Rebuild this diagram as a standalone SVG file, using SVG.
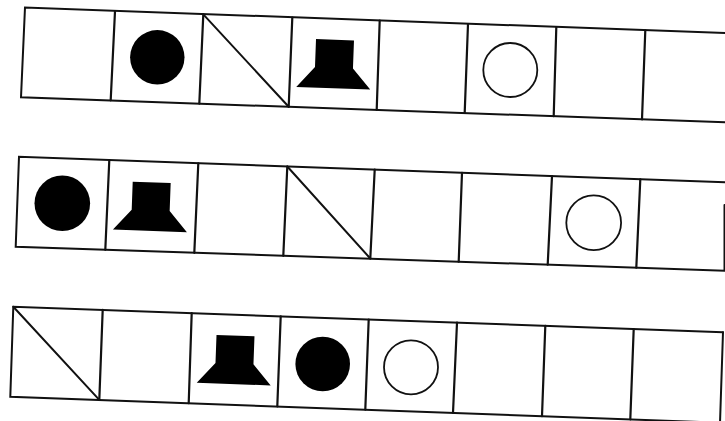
<svg xmlns="http://www.w3.org/2000/svg" width="725" height="421" viewBox="0 0 725 421">
<defs>
<style>
.ln{stroke:#111;stroke-width:2;fill:none;stroke-linecap:round;}
.dv{stroke:#111;stroke-width:2.2;fill:none;stroke-linecap:round;}
.fc{fill:#000;}
.oc{fill:none;stroke:#111;stroke-width:1.8;}
.tr{fill:#000;}
</style>
<polygon id="trap" points="-19,0 19,0 19,28 37,48.5 -37,48.5 -19,28"/>
</defs>
<rect width="725" height="421" fill="#fff"/>
<g id="row1">
<polyline class="ln" points="727,33.1 25,7.5 21,97.3 727,122.4"/>
<line class="dv" x1="115" y1="11.2" x2="110.7" y2="100.3"/>
<line class="dv" x1="203.3" y1="14.4" x2="199.3" y2="103.6"/>
<line class="dv" x1="292.3" y1="17.6" x2="288.7" y2="106.7"/>
<line class="dv" x1="379.7" y1="20.7" x2="376.7" y2="109.9"/>
<line class="dv" x1="468" y1="24" x2="464.7" y2="112.9"/>
<line class="dv" x1="556.3" y1="27.2" x2="553.7" y2="116.2"/>
<line class="dv" x1="645.3" y1="30.3" x2="642" y2="119.4"/>
<circle class="fc" cx="157.3" cy="57.3" r="27.2"/>
<line class="ln" x1="203.3" y1="14.4" x2="288.7" y2="106.7"/>
<use href="#trap" transform="translate(335,39.8) rotate(2.1)"/>
<circle class="oc" cx="510.3" cy="70" r="27"/>
</g>
<g id="row2">
<polyline class="ln" points="727,182.4 19,156.7 15.7,246.7 724.5,270.7 724.5,205"/>
<line class="dv" x1="109.3" y1="160" x2="105.3" y2="249.8"/>
<line class="dv" x1="198.3" y1="163.3" x2="194.3" y2="252.9"/>
<line class="dv" x1="287.3" y1="166.5" x2="283.3" y2="255.8"/>
<line class="dv" x1="374.7" y1="169.7" x2="370.3" y2="258.5"/>
<line class="dv" x1="462" y1="172.8" x2="458.7" y2="261.7"/>
<line class="dv" x1="552" y1="176.1" x2="547.7" y2="264.7"/>
<line class="dv" x1="640.3" y1="179.3" x2="636.3" y2="267.7"/>
<circle class="fc" cx="62.3" cy="203.3" r="27.8"/>
<use href="#trap" transform="translate(151.7,182.4) rotate(2.1)"/>
<line class="ln" x1="287.3" y1="166.5" x2="370.3" y2="258.5"/>
<circle class="oc" cx="593.7" cy="222.7" r="27.4"/>
</g>
<g id="row3">
<polyline class="ln" points="723,332.3 13.3,306.7 10.3,396.7 722,422.8"/>
<line class="ln" x1="723" y1="332.3" x2="720" y2="423"/>
<line class="dv" x1="102.7" y1="309.9" x2="99.3" y2="399.9"/>
<line class="dv" x1="191.7" y1="313.1" x2="188.7" y2="403.2"/>
<line class="dv" x1="280.7" y1="316.4" x2="277.3" y2="406.4"/>
<line class="dv" x1="368.7" y1="319.5" x2="365.3" y2="409.6"/>
<line class="dv" x1="457" y1="322.7" x2="453" y2="412.8"/>
<line class="dv" x1="545.3" y1="325.9" x2="542" y2="416.2"/>
<line class="dv" x1="633.7" y1="329.1" x2="630.3" y2="419.4"/>
<line class="ln" x1="13.3" y1="306.7" x2="99.3" y2="399.9"/>
<use href="#trap" transform="translate(235.5,335.6) rotate(2.1)"/>
<circle class="fc" cx="322.7" cy="364" r="27.3"/>
<circle class="oc" cx="411" cy="367.3" r="27"/>
</g>
</svg>
